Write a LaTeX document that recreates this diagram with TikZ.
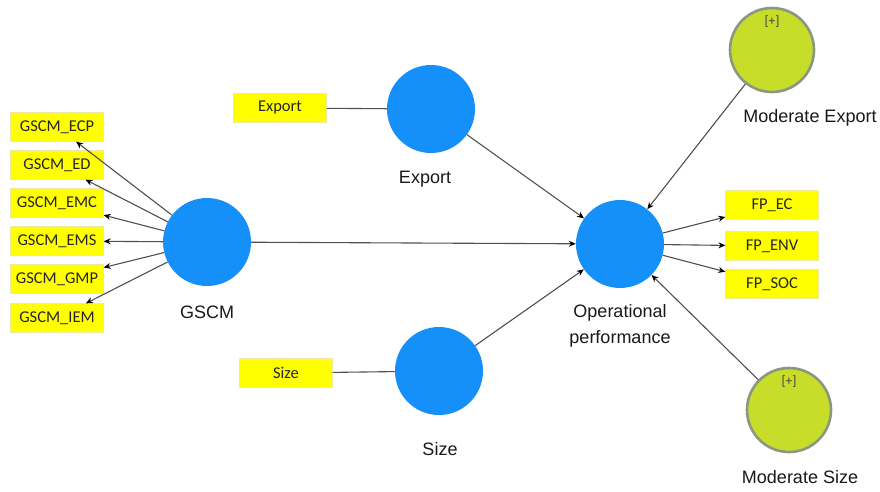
\documentclass[tikz,border=0pt]{standalone}
\usepackage{fontspec}
\setmainfont{Liberation Sans}
\newfontfamily\boxfont{Carlito}
\usetikzlibrary{arrows.meta}
\definecolor{lvblue}{HTML}{1590F8}
\definecolor{indyellow}{HTML}{FFFF00}
\definecolor{modgreen}{HTML}{C8DC2A}
\definecolor{modborder}{HTML}{8A9880}
\definecolor{linegrey}{HTML}{505050}
\tikzset{
  lv/.style={circle, fill=lvblue, draw=none, minimum size=88pt, inner sep=0pt},
  modlv/.style={circle, fill=modgreen, draw=modborder, line width=2.6pt, minimum size=84pt, inner sep=0pt},
  ind/.style={rectangle, fill=indyellow, draw=yellow!80!black!40, line width=0.3pt, minimum width=93pt, minimum height=29pt, inner sep=0pt, font=\boxfont\fontsize{16.5}{18}\selectfont, text=black!85},
  lvlabel/.style={font=\fontsize{18}{26}\selectfont, text=black!90, anchor=base, inner sep=0pt},
  plus/.style={font=\boxfont\fontsize{13.5}{15}\selectfont, text=black!75, inner sep=0pt},
  conn/.style={draw=linegrey, line width=1.1pt},
  arr/.style={conn, -{Stealth[length=7pt,width=6pt,black]}},
}
\begin{document}
\begin{tikzpicture}[x=1pt,y=-1pt]
\path[use as bounding box, fill=white] (0,0) rectangle (880,491);

% latent variables
\node[lv] (gscm) at (207,242) {};
\node[lv] (export) at (431,109) {};
\node[lv] (size) at (439,371) {};
\node[lv] (op) at (620,244) {};
\node[modlv] (modexp) at (772,50) {};
\node[modlv] (modsize) at (789,410) {};
\node[plus] (plusexp) at (772,22) {[+]};
\node[plus] (plussize) at (789,382) {[+]};

% labels
\node[lvlabel] (gscmlab) at (207,318) {GSCM};
\node[lvlabel] (explab) at (425,183) {Export};
\node[lvlabel] (sizelab) at (440,455) {Size};
\node[lvlabel, align=center] (oplab) at (620,343) {Operational\\performance};
\node[lvlabel] (modexplab) at (810,122) {Moderate Export};
\node[lvlabel] (modsizelab) at (800,483) {Moderate Size};

% indicators GSCM
\node[ind] (ecp) at (57,127) {GSCM\_ECP};
\node[ind] (ed) at (57,165) {GSCM\_ED};
\node[ind] (emc) at (57,203) {GSCM\_EMC};
\node[ind] (ems) at (57,241) {GSCM\_EMS};
\node[ind] (gmp) at (57,279) {GSCM\_GMP};
\node[ind] (iem) at (57,318) {GSCM\_IEM};

% other indicators
\node[ind] (expind) at (280,108) {Export};
\node[ind] (sizeind) at (286,373) {Size};
\node[ind] (fpec) at (772,205) {FP\_EC};
\node[ind] (fpenv) at (772,246) {FP\_ENV};
\node[ind] (fpsoc) at (772,284) {FP\_SOC};

% outer model arrows
\foreach \t in {ecp,ed,emc,ems,gmp,iem}
  \draw[arr] (gscm) -- (\t);
\foreach \t in {fpec,fpenv,fpsoc}
  \draw[arr] (op) -- (\t);
\draw[conn] (expind) -- (export);
\draw[conn] (sizeind) -- (size);

% inner model arrows
\draw[arr] (gscm) -- (op);
\draw[arr] (export) -- (op);
\draw[arr] (size) -- (op);
\draw[arr] (modexp) -- (op);
\draw[arr] (modsize) -- (op);
\end{tikzpicture}
\end{document}
